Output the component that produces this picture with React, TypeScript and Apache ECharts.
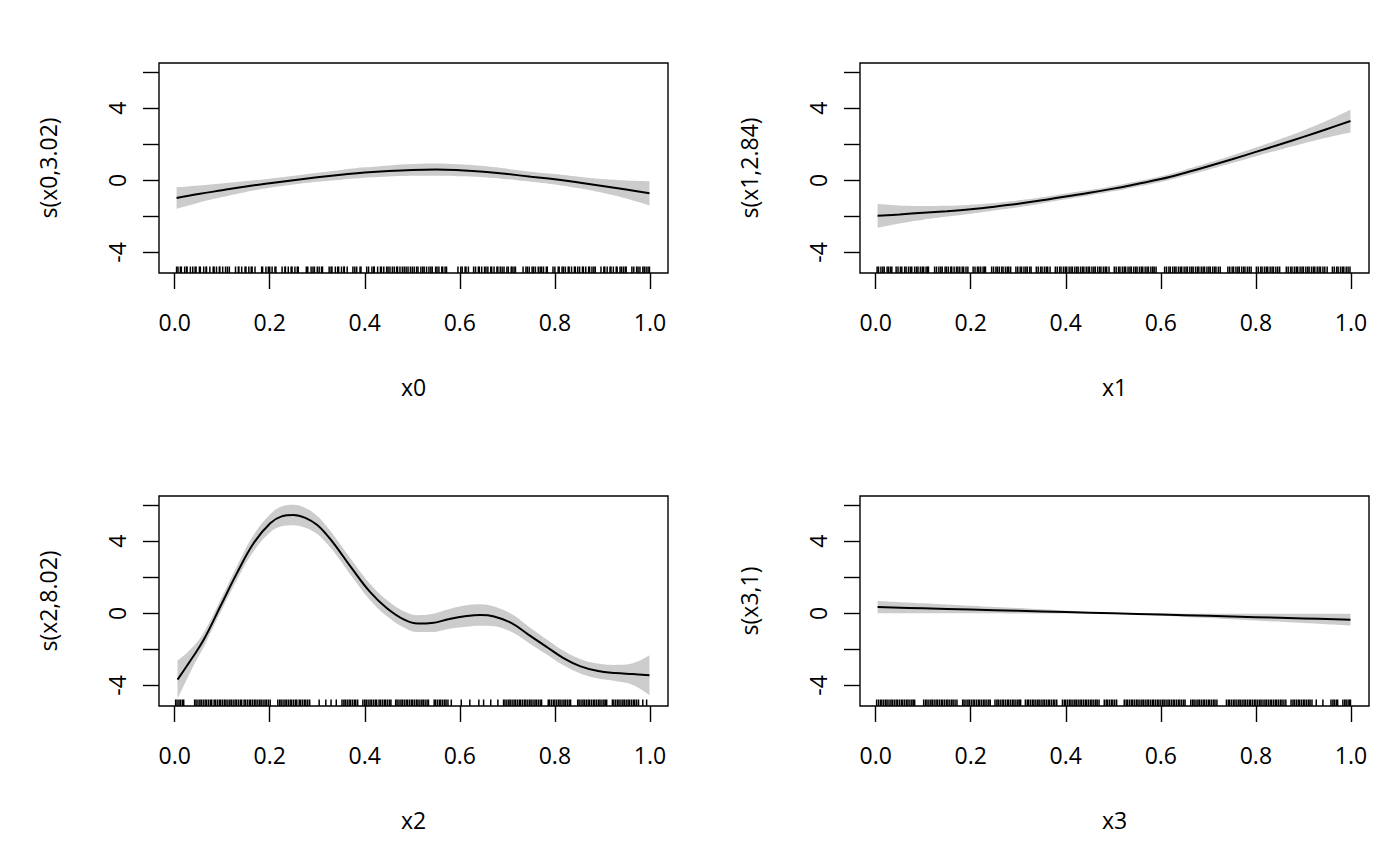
import React, { useEffect, useRef } from "react";
import * as echarts from "echarts";

// ---------- data ----------
const xTicks = [0, 0.2, 0.4, 0.6, 0.8, 1.0];
const yTicks = [-4, -2, 0, 2, 4, 6];
const yTickLabels = [-4, 0, 4];

const xName = ["x0", "x1", "x2", "x3"];
const yName = ["s(x0,3.02)", "s(x1,2.84)", "s(x2,8.02)", "s(x3,1)"];

const xs0 = [0.004, 0.05, 0.1, 0.15, 0.2, 0.25, 0.3, 0.35, 0.4, 0.45, 0.5, 0.55, 0.6, 0.65, 0.7, 0.75, 0.8, 0.85, 0.9, 0.95, 0.999];
const fit0 = [-0.98, -0.76, -0.55, -0.34, -0.16, 0.01, 0.17, 0.31, 0.43, 0.52, 0.58, 0.6, 0.56, 0.48, 0.35, 0.2, 0.06, -0.12, -0.31, -0.51, -0.72];
const hw0 = [0.6, 0.48, 0.38, 0.3, 0.25, 0.24, 0.25, 0.27, 0.29, 0.31, 0.33, 0.34, 0.33, 0.31, 0.29, 0.28, 0.29, 0.32, 0.38, 0.5, 0.67];

const xs1 = [0.004, 0.05, 0.1, 0.15, 0.2, 0.25, 0.3, 0.35, 0.4, 0.45, 0.5, 0.55, 0.6, 0.65, 0.7, 0.75, 0.8, 0.85, 0.9, 0.95, 0.999];
const fit1 = [-1.97, -1.89, -1.8, -1.71, -1.6, -1.46, -1.3, -1.11, -0.89, -0.69, -0.46, -0.2, 0.07, 0.41, 0.78, 1.17, 1.58, 1.99, 2.41, 2.85, 3.29];
const hw1 = [0.66, 0.5, 0.38, 0.3, 0.25, 0.21, 0.19, 0.17, 0.16, 0.15, 0.15, 0.15, 0.16, 0.17, 0.19, 0.21, 0.24, 0.29, 0.36, 0.47, 0.63];

const xs2 = [0.006, 0.035, 0.061, 0.096, 0.131, 0.166, 0.201, 0.225, 0.25, 0.275, 0.3, 0.32, 0.337, 0.374, 0.41, 0.446, 0.483, 0.512, 0.541, 0.578, 0.614, 0.643, 0.672, 0.709, 0.745, 0.781, 0.818, 0.854, 0.891, 0.927, 0.964, 0.999];
const fit2 = [-3.68, -2.55, -1.47, 0.38, 2.23, 3.89, 5.0, 5.38, 5.46, 5.3, 4.9, 4.35, 3.8, 2.45, 1.22, 0.3, -0.35, -0.57, -0.54, -0.31, -0.15, -0.09, -0.17, -0.54, -1.19, -1.83, -2.48, -2.94, -3.2, -3.31, -3.37, -3.43];
const hw2 = [1.06, 0.6, 0.4, 0.35, 0.38, 0.45, 0.5, 0.55, 0.57, 0.55, 0.5, 0.47, 0.45, 0.45, 0.45, 0.45, 0.45, 0.47, 0.5, 0.55, 0.6, 0.6, 0.55, 0.5, 0.45, 0.42, 0.4, 0.4, 0.42, 0.45, 0.6, 1.1];

const xs3 = [0.004, 0.1, 0.2, 0.3, 0.4, 0.5, 0.6, 0.7, 0.8, 0.9, 0.999];
const fit3 = [0.35, 0.28, 0.21, 0.14, 0.07, 0.0, -0.07, -0.14, -0.21, -0.28, -0.35];
const hw3 = [0.34, 0.28, 0.21, 0.15, 0.08, 0.02, 0.06, 0.12, 0.19, 0.26, 0.33];

const rug0 = [0.004,0.007,0.012,0.014,0.021,0.025,0.026,0.033,0.038,0.043,0.045,0.052,0.054,0.061,0.066,0.067,0.074,0.081,0.083,0.088,0.094,0.095,0.101,0.107,0.111,0.115,
0.128,0.134,0.135,0.141,0.148,0.15,0.156,0.161,0.163,0.169,
0.183,0.185,0.192,0.197,0.2,0.205,0.211,0.213,
0.226,0.232,0.233,0.239,0.245,0.247,0.253,0.258,0.26,
0.277,0.28,0.287,0.291,0.294,0.3,0.304,0.309,0.311,
0.325,0.329,0.331,0.338,0.343,0.345,0.351,0.356,0.357,0.363,
0.375,0.379,0.383,0.39,0.392,
0.404,0.408,0.415,0.419,0.42,0.427,0.433,0.435,0.44,0.446,0.449,0.453,0.458,0.462,0.467,0.469,0.474,0.479,0.483,0.487,0.491,0.496,0.5,0.504,0.509,0.512,0.518,0.522,0.525,0.53,0.535,0.539,0.542,0.549,0.552,0.556,0.562,0.564,0.569,0.572,
0.596,0.602,0.605,0.611,0.613,0.618,
0.629,0.633,0.639,0.641,0.646,0.652,0.655,0.659,0.665,0.667,0.672,0.678,0.68,0.685,0.689,0.693,0.699,0.702,0.708,0.71,0.714,0.717,
0.733,0.739,0.742,0.746,0.752,0.755,0.759,0.765,0.769,0.772,0.776,0.782,0.784,
0.796,0.8,0.807,0.809,0.815,0.818,0.822,0.828,0.83,0.835,0.841,0.843,0.848,0.852,0.858,0.86,0.865,0.871,0.873,0.878,0.882,0.885,
0.897,0.903,0.905,0.91,0.916,0.918,0.923,0.929,0.931,0.937,0.94,0.944,0.948,0.95,
0.962,0.966,0.972,0.975,0.979,0.985,0.988,0.992,0.996,0.999];

const rug1 = [0.003,0.006,0.011,0.015,0.018,0.024,0.027,0.031,0.034,
0.043,0.047,0.052,0.055,0.061,0.064,0.069,0.073,0.076,0.082,0.086,0.089,0.094,0.098,0.101,0.106,0.109,0.111,
0.124,0.128,0.133,0.137,0.14,0.146,0.149,0.153,0.158,0.16,0.165,0.17,0.173,0.177,0.182,0.185,0.19,0.194,
0.205,0.209,0.214,0.217,0.221,0.226,0.229,0.231,
0.244,0.248,0.253,0.256,0.26,0.265,0.268,0.273,0.277,0.28,0.284,
0.295,0.299,0.304,0.307,0.312,0.316,0.319,0.324,0.327,
0.338,0.342,0.347,0.35,0.355,0.359,0.362,0.367,
0.378,0.382,0.387,0.39,0.395,0.399,0.402,0.407,0.411,0.414,0.419,0.423,0.426,0.431,0.435,0.438,0.443,0.447,0.45,0.455,0.459,0.462,0.467,0.471,0.474,0.479,0.483,0.486,0.491,
0.502,0.506,0.511,0.514,0.519,0.523,0.526,0.531,0.535,0.538,0.543,0.547,0.55,0.555,0.559,0.562,0.567,0.571,0.574,0.579,0.583,0.586,0.59,
0.608,0.612,0.617,0.62,0.625,0.629,0.632,0.637,0.641,0.644,0.649,0.653,0.656,0.661,0.665,0.668,0.673,0.677,0.68,0.685,0.689,0.692,0.697,0.701,0.704,0.709,0.713,0.716,0.721,0.725,
0.741,0.745,0.75,0.753,0.758,0.762,0.765,0.77,0.774,0.777,0.782,0.786,0.79,
0.801,0.805,0.81,0.813,0.818,0.822,0.825,0.83,0.834,0.837,0.842,0.846,0.85,
0.864,0.868,0.873,0.876,0.881,0.885,0.888,0.893,0.897,0.9,0.905,0.909,0.912,0.917,0.921,0.924,0.929,0.933,0.936,0.941,0.945,0.95,
0.961,0.965,0.97,0.973,0.978,0.982,0.985,0.99,0.994,0.998];

const rug2 = [0.002,0.005,0.009,0.012,0.016,0.019,
0.042,0.045,0.049,0.053,0.056,0.06,0.064,0.067,0.071,0.075,0.078,0.083,0.086,0.09,0.094,0.097,0.101,0.105,0.108,0.112,0.116,0.119,0.123,0.127,0.13,0.134,0.138,0.141,0.146,0.149,0.153,0.157,0.16,0.164,0.168,0.171,0.175,0.179,0.182,0.186,0.19,0.193,0.197,0.201,
0.217,0.221,0.224,0.228,0.232,0.235,0.239,0.243,0.246,0.25,0.254,0.257,0.262,0.265,0.269,0.273,0.276,0.28,0.284,
0.304,0.318,0.329,0.34,
0.352,0.356,0.359,0.363,0.367,0.37,0.374,0.378,0.381,0.385,
0.396,0.4,0.403,0.407,0.411,0.414,0.418,0.422,0.425,0.43,0.433,0.437,0.441,0.444,0.448,0.452,0.455,
0.465,0.468,0.472,0.476,0.479,0.483,0.487,0.49,0.494,0.498,0.501,0.505,0.509,0.512,0.516,0.52,0.523,0.527,0.531,0.534,
0.546,0.549,0.553,0.557,0.56,0.564,0.568,0.571,0.575,
0.582,0.603,0.621,0.64,0.65,0.665,0.68,
0.692,0.695,0.699,0.703,0.706,0.71,0.714,0.717,0.721,0.725,0.728,0.732,0.736,0.739,0.743,0.747,0.75,0.754,0.758,0.761,0.765,0.769,0.772,
0.786,0.789,0.793,0.797,0.8,0.804,0.808,0.811,0.815,0.819,0.822,0.826,0.83,0.833,
0.848,0.851,0.855,0.859,0.862,0.866,0.87,0.873,0.877,0.881,0.884,0.888,0.892,0.895,0.899,0.903,0.906,0.909,
0.921,0.924,0.928,0.932,0.935,0.939,0.943,0.946,0.95,0.954,0.957,0.961,0.965,0.968,0.972,0.976,
0.985,0.993];

const rug3 = [0.002,0.006,0.01,0.013,0.017,0.021,0.024,0.028,0.032,0.035,0.039,0.043,0.046,0.05,0.054,0.057,0.061,0.065,0.068,0.072,0.076,0.079,0.082,
0.101,0.105,0.108,0.112,0.116,0.119,0.123,0.127,0.13,0.134,0.138,0.141,0.145,0.149,0.152,0.156,0.16,0.163,0.167,0.171,
0.183,0.186,0.19,0.194,0.197,0.201,0.205,0.208,0.212,0.216,0.219,0.223,0.227,0.23,0.234,0.238,0.241,
0.251,0.255,0.258,0.262,0.266,0.269,0.273,0.277,0.28,0.284,0.288,0.291,0.295,0.299,0.302,0.305,
0.315,0.319,0.322,0.326,0.33,0.333,0.337,0.341,0.344,0.348,0.352,0.355,0.359,0.363,0.366,0.37,0.374,0.377,0.381,
0.393,0.397,0.4,0.404,0.408,0.411,0.415,0.419,0.422,0.426,0.43,0.433,0.437,0.441,0.444,0.448,0.452,0.455,0.459,0.463,0.466,0.47,
0.481,0.485,0.488,0.492,0.496,0.499,0.503,0.507,
0.523,0.527,0.53,0.534,0.538,0.541,0.545,0.549,0.552,0.556,0.56,0.563,0.567,0.571,0.574,0.578,0.582,0.585,0.589,0.593,0.596,0.6,0.604,0.607,0.611,0.615,0.618,0.622,0.626,0.629,0.633,0.637,0.64,0.644,0.648,0.651,
0.663,0.667,0.67,0.674,0.678,0.681,0.685,0.689,0.692,0.696,0.7,0.703,0.707,0.711,0.714,0.718,
0.738,0.742,0.745,0.749,0.753,0.756,0.76,0.764,0.767,0.771,0.775,0.778,0.782,0.786,0.789,0.793,0.797,0.8,0.804,0.808,0.811,0.815,0.819,0.822,0.826,0.83,0.833,0.837,0.841,0.844,0.848,0.852,0.855,0.859,0.863,
0.874,0.878,0.881,0.885,0.889,0.892,0.896,0.9,0.903,0.907,0.911,0.914,0.918,
0.927,0.941,
0.958,0.962,0.965,0.969,0.972,
0.983,0.987,0.99,0.994,0.997,0.999];

// ---------- layout / style ----------
const XMIN = -0.033;
const XMAX = 1.038;
const YMIN = -5.14;
const YMAX = 6.51;
const PANEL_LEFT = [159, 860, 159, 860];
const PANEL_TOP = [63, 63, 496, 496];
const PANEL_W = 509;
const PANEL_H = 210;
const FONT = "'Open Sans', 'Noto Sans', sans-serif";
const FS = 23;
const SMOOTH = 0.4;

const panels = [
  { xs: xs0, fit: fit0, hw: hw0, rug: rug0 },
  { xs: xs1, fit: fit1, hw: hw1, rug: rug1 },
  { xs: xs2, fit: fit2, hw: hw2, rug: rug2 },
  { xs: xs3, fit: fit3, hw: hw3, rug: rug3 },
];

export default function App() {
  const ref = useRef<HTMLDivElement>(null);

  useEffect(() => {
    if (!ref.current) return;
    const chart = echarts.init(ref.current, null, { renderer: "svg" });

    const grid: any[] = [];
    const xAxis: any[] = [];
    const yAxis: any[] = [];
    const series: any[] = [];

    panels.forEach((p, i) => {
      grid.push({
        left: PANEL_LEFT[i],
        top: PANEL_TOP[i],
        width: PANEL_W,
        height: PANEL_H,
        show: true,
        borderColor: "#000",
        borderWidth: 1.4,
        backgroundColor: "transparent",
      });
      xAxis.push({
        type: "value",
        gridIndex: i,
        min: XMIN,
        max: XMAX,
        name: xName[i],
        nameLocation: "middle",
        nameGap: 102,
        nameTextStyle: { fontFamily: FONT, fontSize: FS, color: "#000" },
        axisLine: { show: false, onZero: false },
        axisTick: {
          show: true,
          inside: false,
          length: 16,
          customValues: xTicks,
          lineStyle: { color: "#000", width: 1.4 },
        },
        axisLabel: {
          show: true,
          customValues: xTicks,
          margin: 37,
          formatter: (v: number) => Number(v).toFixed(1),
          fontFamily: FONT,
          fontSize: FS,
          color: "#000",
        },
        splitLine: { show: false },
      });
      yAxis.push({
        type: "value",
        gridIndex: i,
        min: YMIN,
        max: YMAX,
        name: yName[i],
        nameLocation: "middle",
        nameGap: 100,
        nameRotate: 90,
        nameTextStyle: { fontFamily: FONT, fontSize: FS, color: "#000" },
        axisLine: { show: false, onZero: false },
        axisTick: {
          show: true,
          inside: false,
          length: 16,
          customValues: yTicks,
          lineStyle: { color: "#000", width: 1.4 },
        },
        axisLabel: {
          show: true,
          customValues: yTickLabels,
          rotate: 90,
          margin: 31,
          formatter: (v: number) => String(v),
          fontFamily: FONT,
          fontSize: FS,
          color: "#000",
        },
        splitLine: { show: false },
      });

      // confidence band: lower edge, then the band width stacked on it.
      // Data are stored as [y, x] (encode swaps them) so that the y dimension is the stacked one.
      series.push({
        type: "line",
        xAxisIndex: i,
        yAxisIndex: i,
        data: p.xs.map((x, k) => [p.fit[k] - p.hw[k], x]),
        encode: { x: 1, y: 0 },
        stack: "band" + i,
        stackStrategy: "all",
        smooth: SMOOTH,
        symbol: "none",
        lineStyle: { width: 0, opacity: 0 },
        silent: true,
        z: 1,
      });
      series.push({
        type: "line",
        xAxisIndex: i,
        yAxisIndex: i,
        data: p.xs.map((x, k) => [2 * p.hw[k], x]),
        encode: { x: 1, y: 0 },
        stack: "band" + i,
        stackStrategy: "all",
        smooth: SMOOTH,
        symbol: "none",
        lineStyle: { width: 0, opacity: 0 },
        areaStyle: { color: "#cccccc", opacity: 1 },
        silent: true,
        z: 1,
      });
      // fitted smooth
      series.push({
        type: "line",
        xAxisIndex: i,
        yAxisIndex: i,
        data: p.xs.map((x, k) => [x, p.fit[k]]),
        smooth: SMOOTH,
        symbol: "none",
        lineStyle: { color: "#000", width: 2 },
        silent: true,
        z: 3,
      });
      // rug
      series.push({
        type: "custom",
        xAxisIndex: i,
        yAxisIndex: i,
        data: p.rug.map((v) => [v, YMIN]),
        encode: { x: 0, y: 1 },
        silent: true,
        z: 4,
        renderItem: (params: any, api: any) => {
          const pt = api.coord([api.value(0), api.value(1)]);
          return {
            type: "line",
            shape: { x1: pt[0], y1: pt[1], x2: pt[0], y2: pt[1] - 6.5 },
            style: { stroke: "#000", lineWidth: 1.5 },
          };
        },
      });
    });

    chart.setOption({
      animation: false,
      backgroundColor: "#fff",
      grid,
      xAxis,
      yAxis,
      series,
    });

    return () => chart.dispose();
  }, []);

  return (
    <div
      ref={ref}
      style={{ position: "fixed", left: 0, top: 0, width: 1400, height: 866 }}
    />
  );
}
